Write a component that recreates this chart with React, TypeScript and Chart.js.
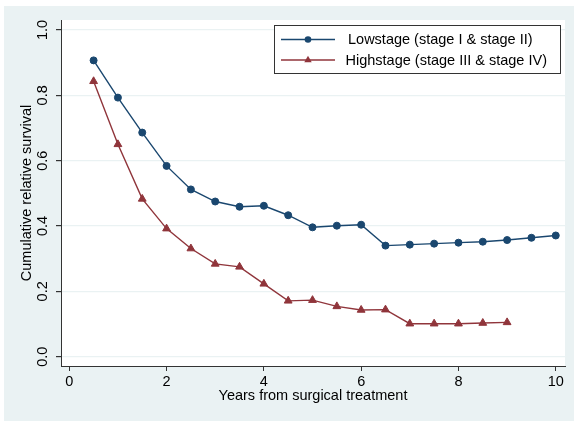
import React, { useEffect, useRef } from "react";
import { Chart, registerables } from "chart.js";

Chart.register(...registerables);

const years = [0.5, 1, 1.5, 2, 2.5, 3, 3.5, 4, 4.5, 5, 5.5, 6, 6.5, 7, 7.5, 8, 8.5, 9, 9.5, 10];
const lowstage = [0.907, 0.793, 0.686, 0.584, 0.512, 0.475, 0.459, 0.462, 0.433, 0.396, 0.401, 0.404, 0.340, 0.343, 0.346, 0.349, 0.352, 0.357, 0.364, 0.371];
const highstage = [0.843, 0.650, 0.483, 0.392, 0.331, 0.284, 0.275, 0.223, 0.171, 0.173, 0.154, 0.143, 0.144, 0.101, 0.101, 0.101, 0.103, 0.105];
const yTicks = [0, 0.2, 0.4, 0.6, 0.8, 1.0];
const xTicks = [0, 2, 4, 6, 8, 10];
const seriesLabels = ["Lowstage (stage I & stage II)", "Highstage (stage III & stage IV)"];
const xTitle = "Years from surgical treatment";
const yTitle = "Cumulative relative survival";

const BLUE = "#1a476f";
const RED = "#90353b";
const FONT = "'Liberation Sans', Arial, Helvetica, sans-serif";
const FS = 14.5;

const bgPlugin = {
  id: "stataBg",
  beforeDraw(chart: any) {
    const { ctx, width, height, chartArea } = chart;
    ctx.save();
    ctx.fillStyle = "#ffffff";
    ctx.fillRect(0, 0, width, height);
    ctx.fillStyle = "#eaf2f3";
    ctx.fillRect(4, 6, width - 4, height - 6);
    ctx.fillStyle = "#ffffff";
    ctx.fillRect(chartArea.left, chartArea.top, chartArea.right - chartArea.left, chartArea.bottom - chartArea.top);
    ctx.restore();
  },
};

const legendPlugin = {
  id: "boxLegend",
  afterDraw(chart: any) {
    const { ctx } = chart;
    const x0 = 274.5, y0 = 25.5, w = 286, h = 48;
    ctx.save();
    ctx.fillStyle = "#ffffff";
    ctx.fillRect(x0, y0, w, h);
    ctx.strokeStyle = "#333333";
    ctx.lineWidth = 1;
    ctx.strokeRect(x0, y0, w, h);
    chart.data.datasets.forEach((ds: any, i: number) => {
      const y = 39.5 + i * 20.5;
      ctx.strokeStyle = ds.borderColor;
      ctx.lineWidth = 1.4;
      ctx.beginPath();
      ctx.moveTo(281, y);
      ctx.lineTo(335, y);
      ctx.stroke();
      ctx.fillStyle = ds.pointBackgroundColor;
      ctx.beginPath();
      if (ds.pointStyle === "triangle") {
        const r = 4.3;
        ctx.moveTo(308, y - r);
        ctx.lineTo(308 + r * 0.866, y + r * 0.5);
        ctx.lineTo(308 - r * 0.866, y + r * 0.5);
        ctx.closePath();
      } else {
        ctx.arc(308, y, 3.3, 0, Math.PI * 2);
      }
      ctx.fill();
      ctx.fillStyle = "#000000";
      ctx.font = `${FS}px ${FONT}`;
      ctx.textAlign = "left";
      ctx.textBaseline = "middle";
      ctx.fillText(ds.label, i === 0 ? 348 : 345.5, y + 0.5);
    });
    ctx.restore();
  },
};

export default function App() {
  const ref = useRef<HTMLCanvasElement>(null);
  useEffect(() => {
    if (!ref.current) return;
    const chart = new Chart(ref.current, {
      type: "line",
      data: {
        datasets: [
          {
            label: seriesLabels[0],
            data: years.map((x, i) => ({ x, y: lowstage[i] })),
            borderColor: BLUE,
            backgroundColor: BLUE,
            pointBackgroundColor: BLUE,
            pointBorderColor: BLUE,
            pointStyle: "circle",
            pointRadius: 3.5,
            pointBorderWidth: 1,
            borderWidth: 1.4,
            tension: 0,
          },
          {
            label: seriesLabels[1],
            data: highstage.map((y, i) => ({ x: years[i], y })),
            borderColor: RED,
            backgroundColor: RED,
            pointBackgroundColor: RED,
            pointBorderColor: RED,
            pointStyle: "triangle",
            pointRadius: 4.5,
            pointBorderWidth: 1,
            borderWidth: 1.4,
            tension: 0,
          },
        ],
      },
      plugins: [bgPlugin, legendPlugin],
      options: {
        responsive: false,
        animation: false,
        layout: { padding: { left: 0, top: 20, right: 9, bottom: 0 } },
        plugins: { legend: { display: false }, tooltip: { enabled: false } },
        scales: {
          x: {
            type: "linear",
            min: -0.17,
            max: 10.19,
            afterBuildTicks: (s: any) => { s.ticks = xTicks.map((v) => ({ value: v })); },
            afterFit: (s: any) => { s.height = 55; },
            grid: { drawOnChartArea: false, drawTicks: true, tickLength: 5, tickColor: "#333333", lineWidth: 1 },
            border: { color: "#333333", width: 1 },
            ticks: { color: "#000000", font: { family: FONT, size: FS }, padding: 2, maxRotation: 0, callback: (v: any) => String(v) },
            title: { display: true, text: xTitle, color: "#000000", font: { family: FONT, size: FS }, padding: { top: 0, bottom: 16 } },
          },
          y: {
            type: "linear",
            min: -0.0285,
            max: 1.0306,
            afterBuildTicks: (s: any) => { s.ticks = yTicks.map((v) => ({ value: v })); },
            afterFit: (s: any) => { s.width = 61; },
            grid: { color: "#eaf2f3", lineWidth: 1.2, drawTicks: true, tickLength: 5, tickColor: "#333333" },
            border: { color: "#333333", width: 1 },
            ticks: { color: "#000000", font: { family: FONT, size: FS }, padding: 3, minRotation: 90, maxRotation: 90, crossAlign: "center", callback: (v: any) => Number(v).toFixed(1) },
            title: { display: true, text: yTitle, color: "#000000", font: { family: FONT, size: FS }, padding: { top: 18, bottom: 0 } },
          },
        },
      },
    } as any);
    return () => chart.destroy();
  }, []);
  return (
    <div style={{ position: "fixed", left: 0, top: 0, width: 574, height: 421 }}>
      <canvas ref={ref} width={574} height={421} />
    </div>
  );
}
